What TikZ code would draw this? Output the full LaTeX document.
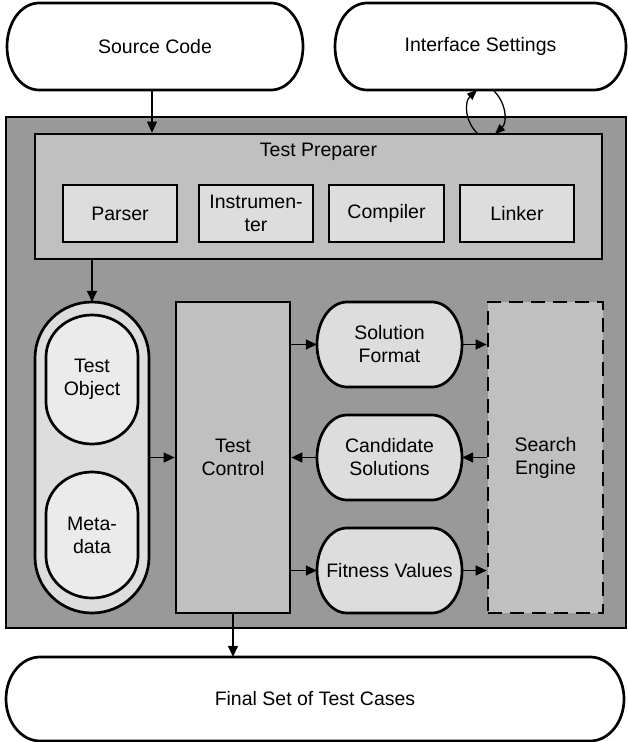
\documentclass[tikz,border=0pt]{standalone}
\usepackage{fontspec}
\setmainfont{Liberation Sans}
\usetikzlibrary{arrows.meta}
\definecolor{cOuter}{HTML}{999999}
\definecolor{cMid}{HTML}{C0C0C0}
\definecolor{cLight}{HTML}{DDDDDD}
\definecolor{cLighter}{HTML}{EBEBEB}
\tikzset{
  txt/.style={font=\fontsize{19.5}{23}\selectfont, align=center, inner sep=0pt},
  boxnode/.style={txt, draw, line width=2.7pt},
  shp/.style={line width=2.7pt},
  arr/.style={line width=1.5pt, -{Triangle[length=11pt,width=10pt]}},
  carr/.style={line width=1.3pt, -{Triangle[length=10pt,width=8pt]}},
}
% horizontal terminator: x1 y1 x2 y2 rx fill (pixel coords, y downward)
\newcommand\myhcap[6]{%
  \filldraw[shp, fill=#6] ({#1+#5},-#2) -- ({#3-#5},-#2)
    arc[start angle=90,end angle=-90,x radius=#5,y radius={(#4-#2)/2}]
    -- ({#1+#5},-#4)
    arc[start angle=270,end angle=90,x radius=#5,y radius={(#4-#2)/2}] -- cycle;}
% vertical terminator: x1 y1 x2 y2 ry fill
\newcommand\myvcap[6]{%
  \filldraw[shp, fill=#6] (#1,{-#2-#5})
    arc[start angle=180,end angle=0,x radius={(#3-#1)/2},y radius=#5]
    -- (#3,{-#4+#5})
    arc[start angle=0,end angle=-180,x radius={(#3-#1)/2},y radius=#5] -- cycle;}
\begin{document}
\begin{tikzpicture}[x=1pt,y=1pt]
\useasboundingbox (0,0) rectangle (627,-742);
\fill[white] (0,0) rectangle (627,-742);

% top terminators
\myhcap{7}{3}{303}{90}{32}{white}
\node[txt, minimum width=296pt, minimum height=87pt] (SC) at (155,-46.5) {Source Code};
\myhcap{335}{3}{626}{90}{32}{white}
\node[txt, minimum width=291pt, minimum height=87pt] (IS) at (480.5,-46.5) {Interface Settings};

% outer box
\node[draw, line width=2.7pt, fill=cOuter, minimum width=620pt, minimum height=511pt, inner sep=0pt] (outer) at (316,-372.5) {};

% test preparer
\node[draw, line width=2.7pt, fill=cMid, minimum width=567pt, minimum height=125pt, inner sep=0pt] (TP) at (318.5,-196.5) {};
\node[txt] (TPlabel) at (318.5,-152) {Test Preparer};
\node[boxnode, fill=cLight, minimum width=114pt, minimum height=57pt] (parser) at (120,-213.5) {Parser};
\node[boxnode, fill=cLight, minimum width=114pt, minimum height=57pt] (instr) at (256,-213.5) {Instrumen-\\ter};
\node[boxnode, fill=cLight, minimum width=115pt, minimum height=57pt] (comp) at (386.5,-213.5) {Compiler};
\node[boxnode, fill=cLight, minimum width=114pt, minimum height=57pt] (link) at (517,-213.5) {Linker};

% test object container
\myvcap{35}{302}{149}{613}{56}{cLight}
\node[minimum width=114pt, minimum height=311pt, inner sep=0pt] (cont) at (92,-457.5) {};
\myvcap{46}{315}{138}{444}{42}{cLighter}
\node[txt, minimum width=92pt, minimum height=129pt] (TO) at (92,-379.5) {Test\\Object};
\myvcap{46}{472}{138}{598}{42}{cLighter}
\node[txt, minimum width=92pt, minimum height=126pt] (MD) at (92,-535) {Meta-\\data};

% test control
\node[boxnode, fill=cMid, minimum width=114pt, minimum height=311pt] (TC) at (233,-457.5) {Test\\Control};

% middle column
\myhcap{317}{302}{462}{387}{30}{cLight}
\node[txt, minimum width=145pt, minimum height=85pt] (SF) at (389.5,-344.5) {Solution\\Format};
\myhcap{317}{415}{462}{500}{30}{cLight}
\node[txt, minimum width=145pt, minimum height=85pt] (CS) at (389.5,-457.5) {Candidate\\Solutions};
\myhcap{317}{528}{462}{613}{30}{cLight}
\node[txt, minimum width=145pt, minimum height=85pt] (FV) at (389.5,-570.5) {Fitness Values};

% search engine
\node[boxnode, fill=cMid, dash pattern=on 14pt off 8pt, minimum width=115pt, minimum height=311pt] (SE) at (545.5,-457.5) {Search\\Engine};

% final
\myhcap{6}{657}{624}{741}{34}{white}
\node[txt, minimum width=618pt, minimum height=84pt] (FC) at (315,-699) {Final Set of Test Cases};

% connectors
\draw[arr] (SC.south -| 152,0) -- (TP.north -| 152,0);
\draw[arr] (TP.south -| cont.north) -- (cont.north);
\draw[arr] (cont.east) -- (TC.west);
\draw[arr] (TC.east |- SF.west) -- (SF.west);
\draw[arr] (CS.west) -- (TC.east);
\draw[arr] (TC.east |- FV.west) -- (FV.west);
\draw[arr] (SF.east) -- (SE.west |- SF.east);
\draw[arr] (SE.west) -- (CS.east);
\draw[arr] (FV.east) -- (SE.west |- FV.east);
\draw[arr] (TC.south) -- (TC.south |- FC.north);

% interface settings loop
\coordinate (tpL) at (478,-134);
\coordinate (isL) at (477,-90);
\coordinate (isR) at (493,-90);
\coordinate (tpR) at (495,-134);
\draw[carr] (tpL) .. controls +(-13,12) and +(-13,-12) .. (isL);
\draw[carr] (isR) .. controls +(13,-12) and +(13,12) .. (tpR);
\end{tikzpicture}
\end{document}
